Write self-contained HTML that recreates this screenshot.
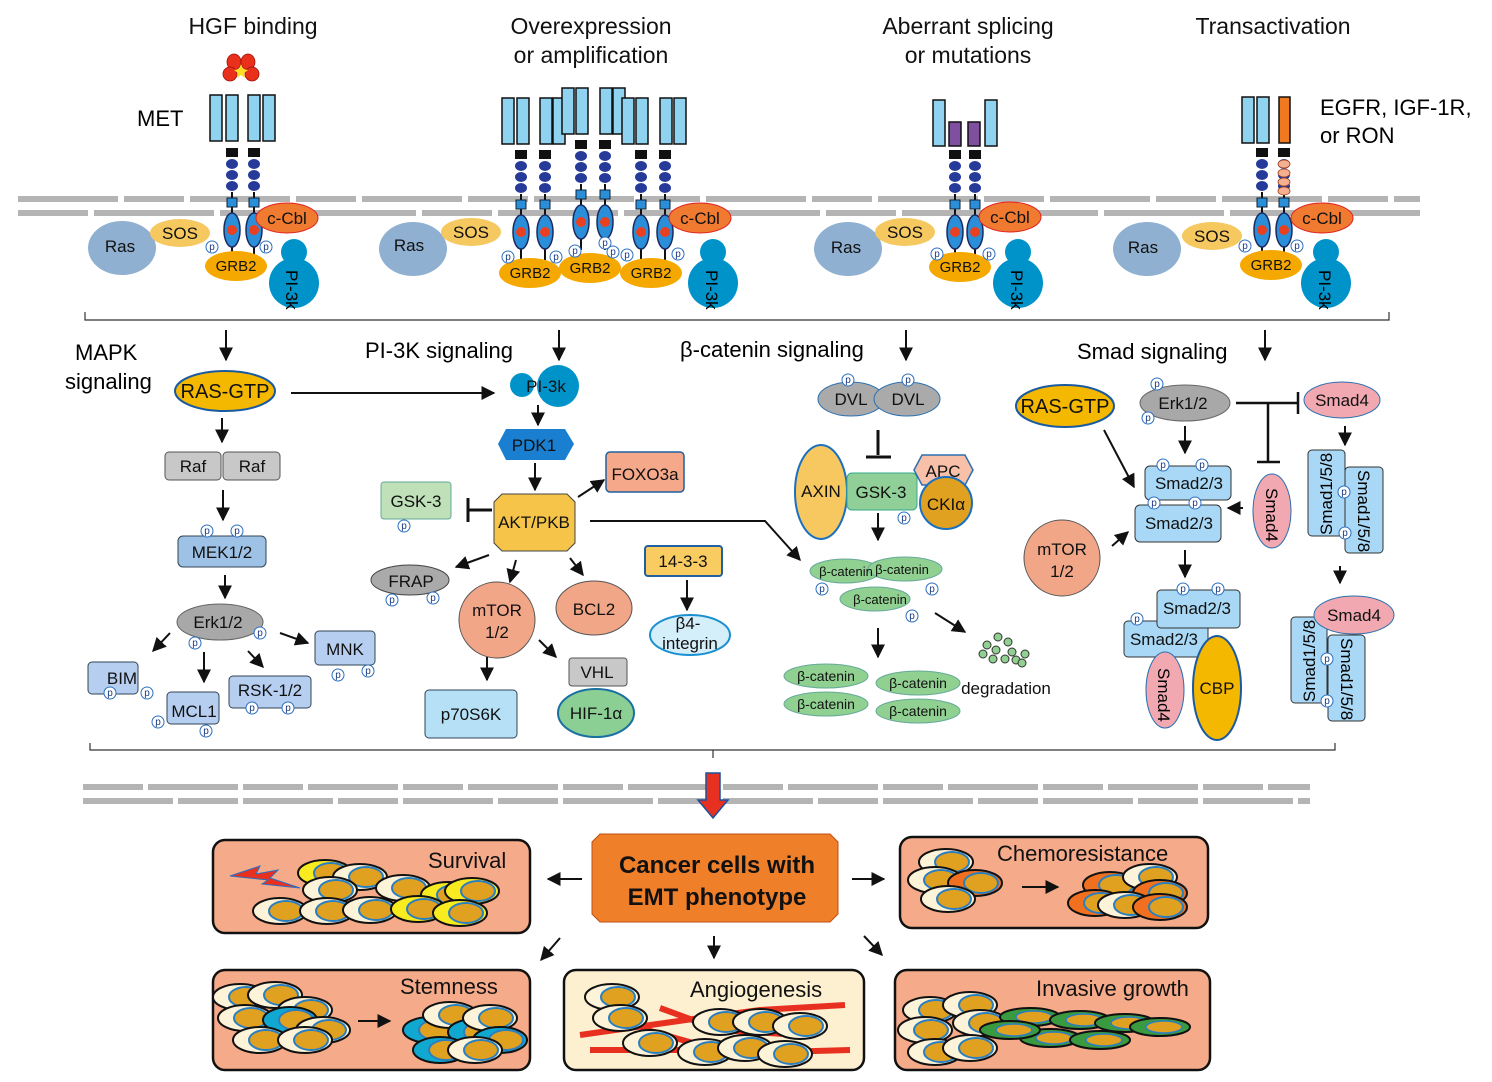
<!DOCTYPE html>
<html><head><meta charset="utf-8"><style>
html,body{margin:0;padding:0;background:#fff}
svg{display:block;font-family:"Liberation Sans",Arial,sans-serif}
.pc{fill:#fff;stroke:#2a6fc0;stroke-width:1}
.pt{font-size:10px;fill:#1a3a80;text-anchor:middle}
.t{text-anchor:middle;fill:#111}
</style></head><body>
<svg width="1492" height="1082" viewBox="0 0 1492 1082" xmlns="http://www.w3.org/2000/svg">
<defs>
<marker id="ah" viewBox="0 0 10 10" refX="9" refY="5" markerWidth="7" markerHeight="7" orient="auto"><path d="M0,0L10,5L0,10z" fill="#111"/></marker>
<g id="ch">
<rect x="-6" y="0" width="12" height="9" fill="#111"/>
<ellipse cx="0" cy="16" rx="6" ry="5" fill="#263a9a"/>
<ellipse cx="0" cy="27" rx="6" ry="5" fill="#263a9a"/>
<ellipse cx="0" cy="38" rx="6" ry="5" fill="#263a9a"/>
<line x1="0" y1="44" x2="0" y2="110" stroke="#111" stroke-width="2"/>
<rect x="-5" y="50" width="10" height="9" fill="#2a8fd8" stroke="#123" stroke-width="1"/>
<ellipse cx="0" cy="82" rx="8" ry="17" fill="#2a8fd8" stroke="#1a2a60" stroke-width="1.5"/>
<circle cx="0" cy="82" r="5" fill="#e84020"/>
</g>
<rect id="bar" x="0" y="0" width="12" height="46" fill="#8fd3f0" stroke="#111" stroke-width="1.5"/>
<g id="cell"><ellipse cx="0" cy="0" rx="27" ry="13" fill="#fdf3d8" stroke="#111" stroke-width="2"/><ellipse cx="6" cy="0" rx="17" ry="10" fill="#e0a020" stroke="#2a7fc0" stroke-width="2"/></g>
<g id="cellY"><ellipse cx="0" cy="0" rx="27" ry="13" fill="#f8ec20" stroke="#111" stroke-width="2"/><ellipse cx="6" cy="0" rx="17" ry="10" fill="#e0a020" stroke="#2a7fc0" stroke-width="2"/></g>
<g id="cellB"><ellipse cx="0" cy="0" rx="27" ry="13" fill="#10a8d0" stroke="#111" stroke-width="2"/><ellipse cx="6" cy="0" rx="17" ry="10" fill="#e0a020" stroke="#2a7fc0" stroke-width="2"/></g>
<g id="cellO"><ellipse cx="0" cy="0" rx="27" ry="13" fill="#f07020" stroke="#111" stroke-width="2"/><ellipse cx="6" cy="0" rx="17" ry="10" fill="#e0a020" stroke="#2a7fc0" stroke-width="2"/></g>
<g id="cellG"><ellipse cx="0" cy="0" rx="30" ry="9" fill="#3a9a40" stroke="#111" stroke-width="2"/><ellipse cx="4" cy="0" rx="18" ry="6" fill="#e0a020" stroke="#2a7fc0" stroke-width="1.5"/></g>
</defs>

<!-- titles -->
<g font-size="23">
<text x="253" y="34" class="t">HGF binding</text>
<text x="591" y="34" class="t">Overexpression</text>
<text x="591" y="63" class="t">or amplification</text>
<text x="968" y="34" class="t">Aberrant splicing</text>
<text x="968" y="63" class="t">or mutations</text>
<text x="1273" y="34" class="t">Transactivation</text>
</g>
<text x="137" y="126" font-size="22">MET</text>
<text x="1320" y="115" font-size="22">EGFR, IGF-1R,</text>
<text x="1320" y="143" font-size="22">or RON</text>

<!-- HGF ligand -->
<g fill="#e8301a" stroke="#a01010" stroke-width="0.8"><ellipse cx="234" cy="62" rx="7" ry="8"/><ellipse cx="248" cy="62" rx="7" ry="8"/><ellipse cx="230" cy="74" rx="7" ry="7"/><ellipse cx="252" cy="74" rx="7" ry="7"/></g>
<polygon points="241,64 243,69 248,70 244,73 245,78 241,75 237,78 238,73 234,70 239,69" fill="#ffe020"/>

<!-- membrane top -->
<g stroke="#b4b4b4" stroke-width="6">
<line x1="18" y1="199" x2="1420" y2="199" stroke-dasharray="100,6,60,6"/>
<line x1="18" y1="213" x2="1420" y2="213" stroke-dasharray="70,6,120,6"/>
</g>

<!-- receptors -->
<use href="#bar" x="210" y="95"/><use href="#bar" x="226" y="95"/><use href="#bar" x="248" y="95"/><use href="#bar" x="263" y="95"/>
<use href="#ch" x="232" y="148"/><use href="#ch" x="254" y="148"/>

<use href="#bar" x="502" y="98"/><use href="#bar" x="517" y="98"/><use href="#bar" x="540" y="98"/><use href="#bar" x="553" y="98"/>
<use href="#bar" x="562" y="88"/><use href="#bar" x="576" y="88"/><use href="#bar" x="600" y="88"/><use href="#bar" x="613" y="88"/>
<use href="#bar" x="622" y="98"/><use href="#bar" x="636" y="98"/><use href="#bar" x="660" y="98"/><use href="#bar" x="674" y="98"/>
<use href="#ch" x="521" y="150"/><use href="#ch" x="545" y="150"/><use href="#ch" x="581" y="140"/><use href="#ch" x="605" y="140"/><use href="#ch" x="641" y="150"/><use href="#ch" x="665" y="150"/>

<use href="#bar" x="933" y="100"/><use href="#bar" x="985" y="100"/>
<rect x="949" y="122" width="12" height="24" fill="#8050a0" stroke="#111" stroke-width="1.5"/><rect x="968" y="122" width="12" height="24" fill="#8050a0" stroke="#111" stroke-width="1.5"/>
<use href="#ch" x="955" y="150"/><use href="#ch" x="975" y="150"/>

<use href="#bar" x="1242" y="97"/><use href="#bar" x="1257" y="97"/>
<rect x="1279" y="97" width="11" height="46" fill="#f07820" stroke="#111" stroke-width="1.5"/>
<use href="#ch" x="1262" y="148"/><use href="#ch" x="1284" y="148"/>
<g fill="#f5b090" stroke="#a04020" stroke-width="0.8"><ellipse cx="1284" cy="164" rx="6" ry="4"/><ellipse cx="1284" cy="173" rx="6" ry="4"/><ellipse cx="1284" cy="182" rx="6" ry="4"/><ellipse cx="1284" cy="191" rx="6" ry="4"/></g>

<!-- membrane complexes -->
<g font-size="17">
<ellipse cx="122" cy="248" rx="34" ry="27" fill="#8fb0d0"/><text x="120" y="252" class="t">Ras</text>
<ellipse cx="180" cy="233" rx="30" ry="14" fill="#f6c860"/><text x="180" y="239" class="t">SOS</text>
<ellipse cx="236" cy="266" rx="31" ry="15" fill="#f5a800"/><text x="236" y="271" class="t" font-size="15">GRB2</text>
<ellipse cx="287" cy="218" rx="31" ry="15" fill="#f07a30" stroke="#e02020"/><text x="287" y="224" class="t">c-Cbl</text>
<circle cx="294" cy="252" r="13" fill="#0093c9"/><circle cx="294" cy="283" r="25" fill="#0093c9"/><text x="0" y="0" transform="translate(286,270) rotate(90)" font-size="17">PI-3k</text>

<ellipse cx="413" cy="249" rx="34" ry="27" fill="#8fb0d0"/><text x="409" y="251" class="t">Ras</text>
<ellipse cx="471" cy="232" rx="30" ry="14" fill="#f6c860"/><text x="471" y="238" class="t">SOS</text>
<ellipse cx="530" cy="273" rx="31" ry="15" fill="#f5a800"/><text x="530" y="278" class="t" font-size="15">GRB2</text>
<ellipse cx="590" cy="268" rx="31" ry="15" fill="#f5a800"/><text x="590" y="273" class="t" font-size="15">GRB2</text>
<ellipse cx="651" cy="273" rx="31" ry="15" fill="#f5a800"/><text x="651" y="278" class="t" font-size="15">GRB2</text>
<ellipse cx="700" cy="218" rx="31" ry="15" fill="#f07a30" stroke="#e02020"/><text x="700" y="224" class="t">c-Cbl</text>
<circle cx="713" cy="252" r="13" fill="#0093c9"/><circle cx="713" cy="283" r="25" fill="#0093c9"/><text transform="translate(706,270) rotate(90)" font-size="17">PI-3k</text>

<ellipse cx="848" cy="249" rx="34" ry="27" fill="#8fb0d0"/><text x="846" y="253" class="t">Ras</text>
<ellipse cx="905" cy="232" rx="30" ry="14" fill="#f6c860"/><text x="905" y="238" class="t">SOS</text>
<ellipse cx="960" cy="267" rx="31" ry="15" fill="#f5a800"/><text x="960" y="272" class="t" font-size="15">GRB2</text>
<ellipse cx="1010" cy="217" rx="31" ry="15" fill="#f07a30" stroke="#e02020"/><text x="1010" y="223" class="t">c-Cbl</text>
<circle cx="1018" cy="252" r="13" fill="#0093c9"/><circle cx="1018" cy="283" r="25" fill="#0093c9"/><text transform="translate(1011,270) rotate(90)" font-size="17">PI-3k</text>

<ellipse cx="1147" cy="249" rx="34" ry="27" fill="#8fb0d0"/><text x="1143" y="253" class="t">Ras</text>
<ellipse cx="1212" cy="236" rx="30" ry="14" fill="#f6c860"/><text x="1212" y="242" class="t">SOS</text>
<ellipse cx="1271" cy="265" rx="31" ry="15" fill="#f5a800"/><text x="1271" y="270" class="t" font-size="15">GRB2</text>
<ellipse cx="1322" cy="218" rx="31" ry="15" fill="#f07a30" stroke="#e02020"/><text x="1322" y="224" class="t">c-Cbl</text>
<circle cx="1326" cy="252" r="13" fill="#0093c9"/><circle cx="1326" cy="283" r="25" fill="#0093c9"/><text transform="translate(1319,270) rotate(90)" font-size="17">PI-3k</text>
</g>
<g>
<circle cx="212" cy="247" r="6" class="pc"/><text x="212" y="250" class="pt">p</text>
<circle cx="266" cy="247" r="6" class="pc"/><text x="266" y="250" class="pt">p</text>
<circle cx="508" cy="257" r="6" class="pc"/><text x="508" y="260" class="pt">p</text>
<circle cx="556" cy="257" r="6" class="pc"/><text x="556" y="260" class="pt">p</text>
<circle cx="575" cy="251" r="6" class="pc"/><text x="575" y="254" class="pt">p</text>
<circle cx="605" cy="243" r="6" class="pc"/><text x="605" y="246" class="pt">p</text>
<circle cx="613" cy="252" r="6" class="pc"/><text x="613" y="255" class="pt">p</text>
<circle cx="627" cy="255" r="6" class="pc"/><text x="627" y="258" class="pt">p</text>
<circle cx="678" cy="254" r="6" class="pc"/><text x="678" y="257" class="pt">p</text>
<circle cx="937" cy="254" r="6" class="pc"/><text x="937" y="257" class="pt">p</text>
<circle cx="989" cy="254" r="6" class="pc"/><text x="989" y="257" class="pt">p</text>
<circle cx="1245" cy="246" r="6" class="pc"/><text x="1245" y="249" class="pt">p</text>
<circle cx="1297" cy="246" r="6" class="pc"/><text x="1297" y="249" class="pt">p</text>
</g>

<!-- top bracket -->
<path d="M85,312V320H1389V312" fill="none" stroke="#333" stroke-width="1.2"/>
<g stroke="#111" stroke-width="2" marker-end="url(#ah)">
<line x1="226" y1="330" x2="226" y2="360"/><line x1="559" y1="330" x2="559" y2="360"/><line x1="906" y1="330" x2="906" y2="360"/><line x1="1265" y1="330" x2="1265" y2="360"/>
</g>

<!-- section labels -->
<g font-size="22">
<text x="75" y="360">MAPK</text><text x="65" y="389">signaling</text>
<text x="365" y="358">PI-3K signaling</text>
<text x="680" y="357">β-catenin signaling</text>
<text x="1077" y="359">Smad signaling</text>
</g>

<!-- MAPK -->
<g font-size="18">
<ellipse cx="225" cy="391" rx="50" ry="20" fill="#f5b800" stroke="#1a5aa0" stroke-width="2"/><text x="225" y="398" class="t" font-size="20">RAS-GTP</text>
<rect x="165" y="452" width="56" height="28" rx="4" fill="#c8c8c8" stroke="#555"/><text x="193" y="472" class="t" font-size="17">Raf</text>
<rect x="223" y="452" width="57" height="28" rx="4" fill="#c8c8c8" stroke="#555"/><text x="252" y="472" class="t" font-size="17">Raf</text>
<rect x="178" y="536" width="88" height="31" rx="5" fill="#9ec2e6" stroke="#345"/><text x="222" y="558" class="t" font-size="17">MEK1/2</text>
<ellipse cx="220" cy="622" rx="43" ry="18" fill="#a8a8a8" stroke="#666"/><text x="218" y="628" class="t" font-size="17">Erk1/2</text>
<rect x="88" y="662" width="50" height="32" rx="4" fill="#b6cef0" stroke="#345"/><text x="122" y="684" class="t" font-size="17">BIM</text>
<rect x="167" y="692" width="52" height="32" rx="4" fill="#b6cef0" stroke="#345"/><text x="194" y="717" class="t" font-size="17">MCL1</text>
<rect x="229" y="676" width="82" height="32" rx="4" fill="#b6cef0" stroke="#345"/><text x="270" y="696" class="t" font-size="17">RSK-1/2</text>
<rect x="315" y="631" width="60" height="34" rx="4" fill="#b6cef0" stroke="#345"/><text x="345" y="655" class="t" font-size="17">MNK</text>
</g>
<g>
<circle cx="207" cy="531" r="6" class="pc"/><text x="207" y="534" class="pt">p</text>
<circle cx="237" cy="531" r="6" class="pc"/><text x="237" y="534" class="pt">p</text>
<circle cx="195" cy="643" r="6" class="pc"/><text x="195" y="646" class="pt">p</text>
<circle cx="260" cy="633" r="6" class="pc"/><text x="260" y="636" class="pt">p</text>
<circle cx="110" cy="693" r="6" class="pc"/><text x="110" y="696" class="pt">p</text>
<circle cx="147" cy="693" r="6" class="pc"/><text x="147" y="696" class="pt">p</text>
<circle cx="158" cy="722" r="6" class="pc"/><text x="158" y="725" class="pt">p</text>
<circle cx="206" cy="731" r="6" class="pc"/><text x="206" y="734" class="pt">p</text>
<circle cx="252" cy="708" r="6" class="pc"/><text x="252" y="711" class="pt">p</text>
<circle cx="288" cy="708" r="6" class="pc"/><text x="288" y="711" class="pt">p</text>
<circle cx="338" cy="675" r="6" class="pc"/><text x="338" y="678" class="pt">p</text>
<circle cx="368" cy="671" r="6" class="pc"/><text x="368" y="674" class="pt">p</text>
</g>
<g stroke="#111" stroke-width="2" marker-end="url(#ah)">
<line x1="291" y1="393" x2="494" y2="393"/>
<line x1="222" y1="418" x2="222" y2="442"/>
<line x1="223" y1="490" x2="223" y2="520"/>
<line x1="225" y1="575" x2="225" y2="598"/>
<line x1="170" y1="633" x2="153" y2="651"/>
<line x1="204" y1="652" x2="204" y2="682"/>
<line x1="248" y1="651" x2="263" y2="667"/>
<line x1="280" y1="633" x2="308" y2="643"/>
</g>

<!-- PI3K -->
<g font-size="17">
<circle cx="522" cy="385" r="12" fill="#0093c9"/><circle cx="558" cy="386" r="21" fill="#0093c9"/><text x="546" y="392" class="t">PI-3k</text>
<polygon points="506,429 565,429 574,444 565,460 506,460 498,444" fill="#1a7fd0"/><text x="534" y="451" class="t">PDK1</text>
<polygon points="502,494 567,494 575,502 575,543 567,551 502,551 494,543 494,502" fill="#f5c448" stroke="#444"/><text x="534" y="528" class="t">AKT/PKB</text>
<rect x="381" y="482" width="70" height="37" rx="3" fill="#bfe0b8" stroke="#6a9"/><text x="416" y="507" class="t">GSK-3</text>
<rect x="606" y="452" width="78" height="40" rx="4" fill="#f5a98a" stroke="#2060a0" stroke-width="1.5"/><text x="645" y="480" class="t">FOXO3a</text>
<ellipse cx="410" cy="580" rx="39" ry="15" fill="#aaa" stroke="#444"/><text x="411" y="587" class="t">FRAP</text>
<circle cx="497" cy="620" r="38" fill="#f2a688" stroke="#555"/><text x="497" y="616" class="t">mTOR</text><text x="497" y="638" class="t">1/2</text>
<ellipse cx="594" cy="608" rx="38" ry="27" fill="#f2a688" stroke="#555"/><text x="594" y="615" class="t">BCL2</text>
<rect x="645" y="546" width="77" height="30" rx="3" fill="#f8cc60" stroke="#2060a0" stroke-width="2"/><text x="683" y="567" class="t">14-3-3</text>
<ellipse cx="690" cy="635" rx="40" ry="20" fill="#d4eefa" stroke="#1a90d0" stroke-width="2"/><text x="688" y="629" class="t">β4-</text><text x="690" y="649" class="t">integrin</text>
<rect x="569" y="658" width="58" height="28" rx="3" fill="#c8c8c8" stroke="#555"/><text x="597" y="678" class="t">VHL</text>
<ellipse cx="596" cy="713" rx="38" ry="24" fill="#8ccf94" stroke="#1a70a0" stroke-width="2"/><text x="596" y="719" class="t">HIF-1α</text>
<rect x="425" y="690" width="92" height="48" rx="4" fill="#b6e0f6" stroke="#345"/><text x="471" y="720" class="t">p70S6K</text>
</g>
<g>
<circle cx="404" cy="526" r="6" class="pc"/><text x="404" y="529" class="pt">p</text>
<circle cx="392" cy="600" r="6" class="pc"/><text x="392" y="603" class="pt">p</text>
<circle cx="433" cy="598" r="6" class="pc"/><text x="433" y="601" class="pt">p</text>
</g>
<g stroke="#111" stroke-width="2" marker-end="url(#ah)">
<line x1="538" y1="405" x2="538" y2="425"/>
<line x1="535" y1="463" x2="535" y2="490"/>
<line x1="578" y1="497" x2="604" y2="480"/>
<line x1="489" y1="555" x2="456" y2="567"/>
<line x1="516" y1="560" x2="510" y2="582"/>
<line x1="570" y1="558" x2="583" y2="575"/>
<line x1="487" y1="657" x2="487" y2="680"/>
<line x1="539" y1="640" x2="556" y2="657"/>
<line x1="687" y1="580" x2="687" y2="610"/>
<path d="M590,521H765L800,560" fill="none"/>
</g>
<path d="M492,510H468M468,498V522" stroke="#111" stroke-width="3" fill="none"/>

<!-- beta-catenin -->
<g font-size="17">
<ellipse cx="851" cy="399" rx="33" ry="17" fill="#aaa" stroke="#2a70b0"/><ellipse cx="907" cy="399" rx="33" ry="17" fill="#aaa" stroke="#2a70b0"/>
<text x="851" y="405" class="t">DVL</text><text x="908" y="405" class="t">DVL</text>
<ellipse cx="821" cy="492" rx="26" ry="47" fill="#f8c860" stroke="#1a70c0" stroke-width="2"/><text x="821" y="497" class="t">AXIN</text>
<rect x="847" y="473" width="70" height="37" rx="5" fill="#90d098" stroke="#3a8"/><text x="881" y="498" class="t">GSK-3</text>
<polygon points="922,455 965,455 973,470 965,485 922,485 914,470" fill="#f8c0a8" stroke="#2a70b0" stroke-width="1.5"/><text x="943" y="477" class="t">APC</text>
<circle cx="946" cy="503" r="26" fill="#e0a020" stroke="#1a70c0" stroke-width="2"/><text x="946" y="510" class="t">CKIα</text>
<text x="1006" y="694" class="t">degradation</text>
</g>
<g font-size="13">
<ellipse cx="845" cy="571" rx="35" ry="12" fill="#90d090" stroke="#6a9"/><ellipse cx="905" cy="569" rx="37" ry="12" fill="#90d090" stroke="#6a9"/><ellipse cx="875" cy="599" rx="35" ry="12" fill="#90d090" stroke="#6a9"/>
<text x="846" y="576" class="t">β-catenin</text><text x="902" y="574" class="t">β-catenin</text><text x="880" y="604" class="t">β-catenin</text>
<g font-size="14">
<ellipse cx="826" cy="676" rx="42" ry="12" fill="#90d090" stroke="#6a9"/><ellipse cx="918" cy="683" rx="42" ry="12" fill="#90d090" stroke="#6a9"/><ellipse cx="826" cy="704" rx="42" ry="12" fill="#90d090" stroke="#6a9"/><ellipse cx="918" cy="711" rx="42" ry="12" fill="#90d090" stroke="#6a9"/>
<text x="826" y="681" class="t">β-catenin</text><text x="918" y="688" class="t">β-catenin</text><text x="826" y="709" class="t">β-catenin</text><text x="918" y="716" class="t">β-catenin</text>
</g></g>
<g fill="#90d090" stroke="#333"><circle cx="998" cy="637" r="4"/><circle cx="1008" cy="642" r="4"/><circle cx="987" cy="645" r="4"/><circle cx="996" cy="650" r="4"/><circle cx="1012" cy="652" r="4"/><circle cx="983" cy="654" r="4"/><circle cx="1005" cy="659" r="4"/><circle cx="1016" cy="660" r="4"/><circle cx="1025" cy="654" r="4"/><circle cx="1022" cy="663" r="4"/><circle cx="993" cy="659" r="4"/></g>
<g>
<circle cx="848" cy="380" r="6" class="pc"/><text x="848" y="383" class="pt">p</text>
<circle cx="908" cy="380" r="6" class="pc"/><text x="908" y="383" class="pt">p</text>
<circle cx="904" cy="518" r="6" class="pc"/><text x="904" y="521" class="pt">p</text>
<circle cx="822" cy="589" r="6" class="pc"/><text x="822" y="592" class="pt">p</text>
<circle cx="932" cy="589" r="6" class="pc"/><text x="932" y="592" class="pt">p</text>
<circle cx="912" cy="616" r="6" class="pc"/><text x="912" y="619" class="pt">p</text>
</g>
<path d="M878,430V455M866,457H891" stroke="#111" stroke-width="3" fill="none"/>
<g stroke="#111" stroke-width="2" marker-end="url(#ah)">
<line x1="878" y1="513" x2="878" y2="540"/>
<line x1="878" y1="628" x2="878" y2="657"/>
<line x1="935" y1="613" x2="965" y2="632"/>
</g>

<!-- Smad -->
<g font-size="17">
<ellipse cx="1065" cy="406" rx="49" ry="21" fill="#f5b800" stroke="#1a5aa0" stroke-width="2"/><text x="1065" y="413" class="t" font-size="20">RAS-GTP</text>
<ellipse cx="1185" cy="403" rx="45" ry="18" fill="#a8a8a8" stroke="#666"/><text x="1183" y="409" class="t">Erk1/2</text>
<ellipse cx="1342" cy="400" rx="38" ry="18" fill="#f2a8b0" stroke="#2a70b0"/><text x="1342" y="406" class="t">Smad4</text>
<rect x="1145" y="466" width="86" height="34" rx="5" fill="#a8d8f5" stroke="#333"/><text x="1189" y="489" class="t">Smad2/3</text>
<rect x="1135" y="505" width="86" height="37" rx="5" fill="#a8d8f5" stroke="#333"/><text x="1179" y="529" class="t">Smad2/3</text>
<ellipse cx="1272" cy="511" rx="19" ry="37" fill="#f2a8b0" stroke="#2a70b0"/><text transform="translate(1266,488) rotate(90)">Smad4</text>
<circle cx="1062" cy="558" r="38" fill="#f2a688" stroke="#555"/><text x="1062" y="555" class="t">mTOR</text><text x="1062" y="577" class="t">1/2</text>
<rect x="1308" y="450" width="37" height="86" rx="4" fill="#a8d8f5" stroke="#333"/><text transform="translate(1332,535) rotate(-90)">Smad1/5/8</text>
<rect x="1345" y="467" width="38" height="86" rx="4" fill="#a8d8f5" stroke="#333"/><text transform="translate(1358,470) rotate(90)">Smad1/5/8</text>
<rect x="1291" y="617" width="36" height="86" rx="4" fill="#a8d8f5" stroke="#333"/><text transform="translate(1315,702) rotate(-90)">Smad1/5/8</text>
<rect x="1328" y="635" width="37" height="86" rx="4" fill="#a8d8f5" stroke="#333"/><text transform="translate(1341,638) rotate(90)">Smad1/5/8</text>
<ellipse cx="1354" cy="615" rx="40" ry="19" fill="#f2a8b0" stroke="#2a70b0"/><text x="1354" y="621" class="t">Smad4</text>
<rect x="1124" y="621" width="84" height="36" rx="4" fill="#a8d8f5" stroke="#333"/><text x="1164" y="645" class="t">Smad2/3</text>
<rect x="1157" y="590" width="83" height="38" rx="4" fill="#a8d8f5" stroke="#333"/><text x="1197" y="614" class="t">Smad2/3</text>
<ellipse cx="1165" cy="690" rx="19" ry="38" fill="#f2a8b0" stroke="#2a70b0"/><text transform="translate(1158,668) rotate(90)">Smad4</text>
<ellipse cx="1217" cy="688" rx="24" ry="52" fill="#f5b800" stroke="#1a5aa0" stroke-width="2"/><text x="1217" y="694" class="t">CBP</text>
</g>
<g>
<circle cx="1157" cy="384" r="6" class="pc"/><text x="1157" y="387" class="pt">p</text>
<circle cx="1148" cy="418" r="6" class="pc"/><text x="1148" y="421" class="pt">p</text>
<circle cx="1163" cy="465" r="6" class="pc"/><text x="1163" y="468" class="pt">p</text>
<circle cx="1202" cy="465" r="6" class="pc"/><text x="1202" y="468" class="pt">p</text>
<circle cx="1154" cy="503" r="6" class="pc"/><text x="1154" y="506" class="pt">p</text>
<circle cx="1195" cy="503" r="6" class="pc"/><text x="1195" y="506" class="pt">p</text>
<circle cx="1183" cy="589" r="6" class="pc"/><text x="1183" y="592" class="pt">p</text>
<circle cx="1218" cy="589" r="6" class="pc"/><text x="1218" y="592" class="pt">p</text>
<circle cx="1137" cy="619" r="6" class="pc"/><text x="1137" y="622" class="pt">p</text>
<circle cx="1344" cy="492" r="6" class="pc"/><text x="1344" y="495" class="pt">p</text>
<circle cx="1345" cy="533" r="6" class="pc"/><text x="1345" y="536" class="pt">p</text>
<circle cx="1327" cy="659" r="6" class="pc"/><text x="1327" y="662" class="pt">p</text>
<circle cx="1327" cy="701" r="6" class="pc"/><text x="1327" y="704" class="pt">p</text>
</g>
<g stroke="#111" stroke-width="2" marker-end="url(#ah)">
<line x1="1185" y1="426" x2="1185" y2="453"/>
<line x1="1104" y1="430" x2="1134" y2="487"/>
<line x1="1112" y1="546" x2="1128" y2="532"/>
<line x1="1243" y1="508" x2="1228" y2="508"/>
<line x1="1185" y1="550" x2="1185" y2="577"/>
<line x1="1345" y1="426" x2="1345" y2="445"/>
<line x1="1340" y1="566" x2="1340" y2="583"/>
</g>
<path d="M1236,403H1298M1298,392V414M1268,403V462M1257,462H1280" stroke="#111" stroke-width="2.5" fill="none"/>

<!-- bottom bracket -->
<path d="M90,743V750H1335V743M713,750V758" fill="none" stroke="#333" stroke-width="1.2"/>
<g stroke="#b4b4b4" stroke-width="6">
<line x1="83" y1="787" x2="1310" y2="787" stroke-dasharray="60,5,90,5"/>
<line x1="83" y1="801" x2="1310" y2="801" stroke-dasharray="90,5,60,5"/>
</g>
<polygon points="706,773 720,773 720,800 728,800 713,818 698,800 706,800" fill="#e83020" stroke="#1a50a0" stroke-width="1.5"/>

<!-- center box -->
<polygon points="600,834 830,834 838,842 838,914 830,922 600,922 592,914 592,842" fill="#f07f2a" stroke="#c05010"/>
<text x="717" y="873" class="t" font-size="24" font-weight="bold">Cancer cells with</text>
<text x="717" y="905" class="t" font-size="24" font-weight="bold">EMT phenotype</text>
<g stroke="#111" stroke-width="2" marker-end="url(#ah)">
<line x1="582" y1="879" x2="548" y2="879"/>
<line x1="852" y1="879" x2="884" y2="879"/>
<line x1="560" y1="938" x2="541" y2="960"/>
<line x1="714" y1="936" x2="714" y2="958"/>
<line x1="864" y1="936" x2="882" y2="955"/>
</g>

<!-- outcome panels -->
<g stroke="#111" stroke-width="2.5">
<rect x="213" y="840" width="317" height="93" rx="12" fill="#f5aa8a"/>
<rect x="900" y="837" width="308" height="91" rx="12" fill="#f5aa8a"/>
<rect x="213" y="970" width="317" height="100" rx="12" fill="#f5aa8a"/>
<rect x="564" y="970" width="300" height="100" rx="12" fill="#fdf0d0"/>
<rect x="895" y="970" width="315" height="100" rx="12" fill="#f5aa8a"/>
</g>
<polygon points="230,876 260,866 256,874 278,870 270,878 300,888 262,884 268,880" fill="#e83020" stroke="#2a6fc0"/>
<!-- survival cells -->
<use href="#cellY" x="325" y="873"/><use href="#cell" x="360" y="877"/><use href="#cell" x="330" y="890"/><use href="#cell" x="403" y="888"/><use href="#cellY" x="448" y="895"/><use href="#cellY" x="472" y="891"/>
<use href="#cell" x="280" y="911"/><use href="#cell" x="327" y="911"/><use href="#cell" x="370" y="910"/><use href="#cellY" x="418" y="909"/><use href="#cellY" x="460" y="913"/>
<!-- chemo -->
<use href="#cell" x="946" y="862"/><use href="#cell" x="935" y="880"/><use href="#cellO" x="975" y="883"/><use href="#cell" x="948" y="899"/>
<path d="M1022,887H1058" stroke="#111" stroke-width="2" marker-end="url(#ah)"/>
<use href="#cellO" x="1110" y="885"/><use href="#cell" x="1150" y="877"/><use href="#cellO" x="1160" y="893"/><use href="#cellO" x="1095" y="903"/><use href="#cell" x="1125" y="905"/><use href="#cellO" x="1160" y="907"/>
<!-- stemness -->
<use href="#cell" x="240" y="997"/><use href="#cell" x="275" y="995"/><use href="#cell" x="305" y="1010"/><use href="#cell" x="245" y="1018"/><use href="#cellB" x="290" y="1020"/><use href="#cell" x="323" y="1030"/><use href="#cell" x="260" y="1040"/><use href="#cell" x="305" y="1040"/>
<path d="M358,1021H390" stroke="#111" stroke-width="2" marker-end="url(#ah)"/>
<use href="#cellB" x="430" y="1030"/><use href="#cell" x="450" y="1015"/><use href="#cellB" x="475" y="1032"/><use href="#cell" x="490" y="1018"/><use href="#cellB" x="500" y="1040"/><use href="#cellB" x="440" y="1050"/><use href="#cell" x="475" y="1050"/>
<!-- angiogenesis -->
<g stroke="#e83020" stroke-width="6" fill="none"><path d="M580,1035L700,1018L760,1010L845,1005M640,1028L700,1045L780,1052L850,1050M660,1008L720,1030L800,1035M590,1050H700"/></g>
<use href="#cell" x="612" y="997"/><use href="#cell" x="620" y="1018"/><use href="#cell" x="720" y="1022"/><use href="#cell" x="760" y="1022"/><use href="#cell" x="800" y="1026"/><use href="#cell" x="650" y="1043"/><use href="#cell" x="705" y="1052"/><use href="#cell" x="745" y="1048"/><use href="#cell" x="785" y="1054"/>
<!-- invasive -->
<use href="#cell" x="930" y="1010"/><use href="#cell" x="970" y="1005"/><use href="#cell" x="925" y="1030"/><use href="#cell" x="980" y="1023"/><use href="#cell" x="935" y="1052"/><use href="#cell" x="970" y="1048"/>
<use href="#cellG" x="1030" y="1017"/><use href="#cellG" x="1080" y="1020"/><use href="#cellG" x="1125" y="1023"/><use href="#cellG" x="1160" y="1027"/><use href="#cellG" x="1050" y="1038"/><use href="#cellG" x="1100" y="1040"/><use href="#cellG" x="1010" y="1030"/>
<g font-size="22" fill="#111">
<text x="428" y="868">Survival</text>
<text x="997" y="861">Chemoresistance</text>
<text x="400" y="994">Stemness</text>
<text x="690" y="997">Angiogenesis</text>
<text x="1036" y="996">Invasive growth</text>
</g>
</svg>
</body></html>
